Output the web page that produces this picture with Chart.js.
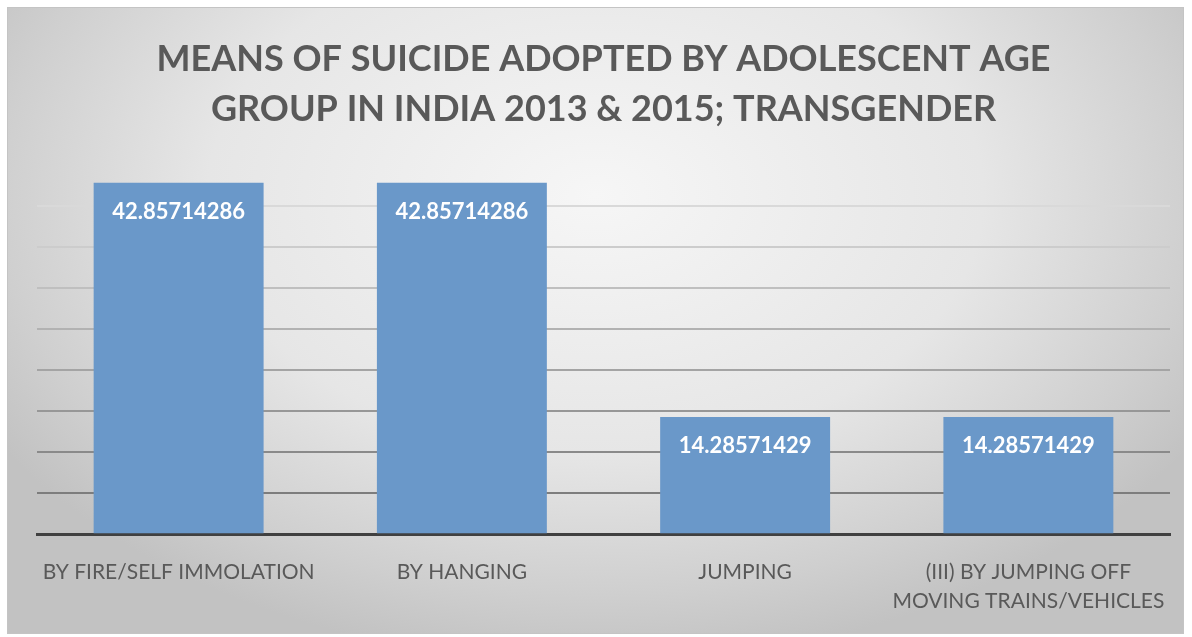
<!DOCTYPE html>
<html>
<head>
<meta charset="utf-8">
<script src="https://cdn.jsdelivr.net/npm/chart.js@4/dist/chart.umd.min.js"></script>
<style>
  html, body { margin: 0; padding: 0; background: #ffffff; }
  body { width: 1192px; height: 637px; position: relative; overflow: hidden; }
  #frame {
    position: absolute; left: 7px; top: 7px; width: 1177px; height: 627px;
    border: 1px solid #c4c4c4; box-sizing: border-box;
    background: radial-gradient(ellipse 60% 75% at 50% 30%, #f6f6f6 0%, #e6e6e6 55%, #cfcfcf 85%, #c2c2c2 100%);
  }
  #wrap { position: absolute; left: 0; top: 0; width: 1192px; height: 637px; }
</style>
</head>
<body>
<div id="frame"></div>
<div id="wrap"><canvas id="c" width="1192" height="637"></canvas></div>
<script>
const titleLines = ["MEANS OF SUICIDE ADOPTED BY ADOLESCENT AGE", "GROUP IN INDIA 2013 & 2015; TRANSGENDER"];
const categories = [
  "BY FIRE/SELF IMMOLATION",
  "BY HANGING",
  "JUMPING",
  ["(III) BY JUMPING OFF", "MOVING TRAINS/VEHICLES"]
];
const values = [42.85714286, 42.85714286, 14.28571429, 14.28571429];
const valueLabels = ["42.85714286", "42.85714286", "14.28571429", "14.28571429"];
const yMin = 0, yMax = 45, yStep = 5;

const valueLabelPlugin = {
  id: 'valueLabels',
  afterDatasetsDraw(chart) {
    const ctx = chart.ctx;
    const meta = chart.getDatasetMeta(0);
    ctx.save();
    ctx.fillStyle = '#ffffff';
    ctx.font = 'bold 22px Lato';
    ctx.textAlign = 'center';
    ctx.textBaseline = 'middle';
    meta.data.forEach((bar, i) => {
      ctx.fillText(valueLabels[i], bar.x, bar.y + 29);
    });
    ctx.restore();
  }
};

function gridColor(ctx) {
  const v = ctx.tick ? ctx.tick.value : 0;
  if (v === 0 || v >= 45) return 'rgba(0,0,0,0)';
  const t = (v - 5) / 35;
  const g = Math.round(125 + t * 92);
  return `rgb(${g},${g},${g})`;
}

new Chart(document.getElementById('c'), {
  type: 'bar',
  data: {
    labels: categories,
    datasets: [{
      data: values,
      backgroundColor: '#6a98c9',
      borderWidth: 0,
      barPercentage: 0.6,
      categoryPercentage: 1.0
    }]
  },
  options: {
    responsive: false,
    animation: false,
    devicePixelRatio: 1,
    layout: { padding: { left: 37, right: 22, top: 0, bottom: -2 } },
    plugins: {
      legend: { display: false },
      tooltip: { enabled: false },
      title: {
        display: true,
        text: titleLines,
        color: '#595959',
        font: { family: 'Lato', size: 36, weight: 'bold', lineHeight: 1.39 },
        padding: { top: 34, bottom: 31 }
      }
    },
    scales: {
      x: {
        grid: { display: false, drawTicks: false },
        border: { display: true, color: '#404040', width: 3 },
        ticks: {
          color: '#595959',
          font: { family: 'Lato', size: 21, lineHeight: 1.4 },
          padding: 23,
          maxRotation: 0,
          autoSkip: false
        }
      },
      y: {
        min: yMin,
        max: yMax,
        ticks: { display: false, stepSize: yStep },
        border: { display: false },
        grid: { color: gridColor, lineWidth: 2, drawTicks: false }
      }
    }
  },
  plugins: [valueLabelPlugin]
});
</script>
</body>
</html>
